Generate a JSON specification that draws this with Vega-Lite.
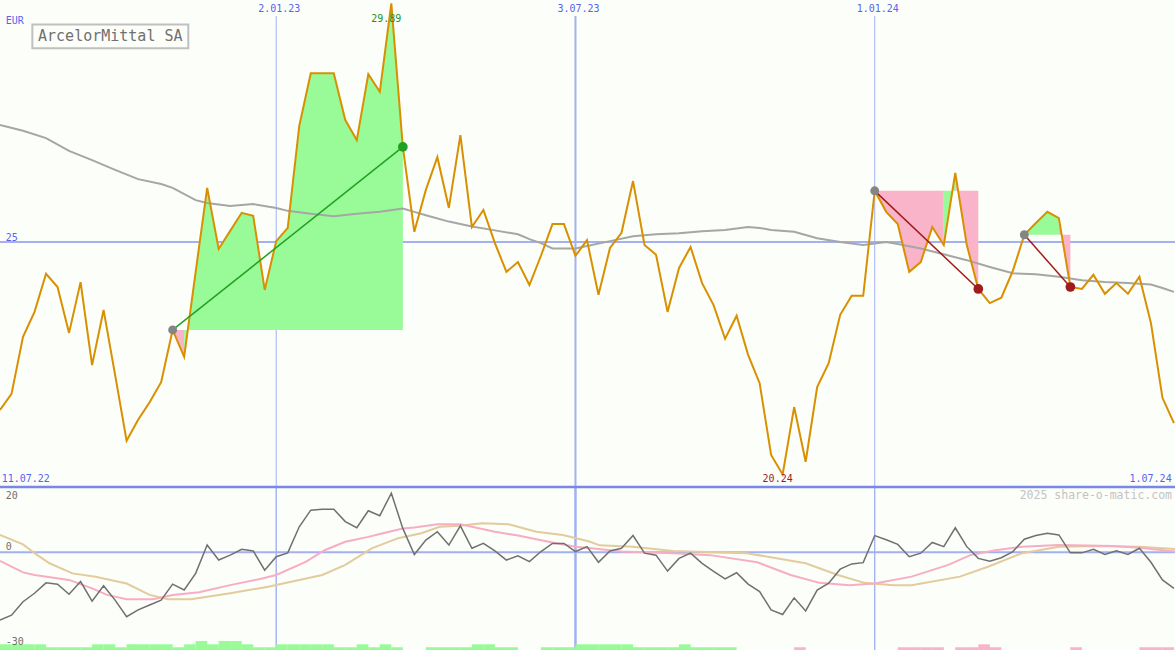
{
  "$schema": "https://vega.github.io/schema/vega-lite/v6.json",
  "background": "#fcfef9",
  "padding": 0,
  "autosize": {"type": "none"},
  "width": 1175,
  "height": 650,
  "config": {"view": {"stroke": null}, "scale": {"continuousPadding": 0}},
  "resolve": {"scale": {"y": "independent", "color": "independent"}},
  "datasets": {
    "price": [
      {"i":0,"p":21.56},{"i":1,"p":21.89},{"i":2,"p":23.06},{"i":3,"p":23.57},{"i":4,"p":24.35},{"i":5,"p":24.08},{"i":6,"p":23.14},{"i":7,"p":24.18},{"i":8,"p":22.48},{"i":9,"p":23.61},
      {"i":10,"p":22.28},{"i":11,"p":20.93},{"i":12,"p":21.36},{"i":13,"p":21.72},{"i":14,"p":22.13},{"i":15,"p":23.20},{"i":16,"p":22.65},{"i":17,"p":24.39},{"i":18,"p":26.11},{"i":19,"p":24.86},
      {"i":20,"p":25.23},{"i":21,"p":25.60},{"i":22,"p":25.54},{"i":23,"p":24.02},{"i":24,"p":25.02},{"i":25,"p":25.29},{"i":26,"p":27.38},{"i":27,"p":28.46},{"i":28,"p":28.46},{"i":29,"p":28.46},
      {"i":30,"p":27.50},{"i":31,"p":27.09},{"i":32,"p":28.44},{"i":33,"p":28.08},{"i":34,"p":29.89},{"i":35,"p":26.95},{"i":36,"p":25.21},{"i":37,"p":26.07},{"i":38,"p":26.74},{"i":39,"p":25.70},
      {"i":40,"p":27.19},{"i":41,"p":25.31},{"i":42,"p":25.66},{"i":43,"p":24.98},{"i":44,"p":24.39},{"i":45,"p":24.59},{"i":46,"p":24.12},{"i":47,"p":24.72},{"i":48,"p":25.37},{"i":49,"p":25.37},
      {"i":50,"p":24.72},{"i":51,"p":25.04},{"i":52,"p":23.92},{"i":53,"p":24.88},{"i":54,"p":25.19},{"i":55,"p":26.25},{"i":56,"p":24.94},{"i":57,"p":24.74},{"i":58,"p":23.57},{"i":59,"p":24.47},
      {"i":60,"p":24.90},{"i":61,"p":24.16},{"i":62,"p":23.71},{"i":63,"p":23.02},{"i":64,"p":23.49},{"i":65,"p":22.69},{"i":66,"p":22.11},{"i":67,"p":20.64},{"i":68,"p":20.24},{"i":69,"p":21.62},
      {"i":70,"p":20.50},{"i":71,"p":22.03},{"i":72,"p":22.52},{"i":73,"p":23.51},{"i":74,"p":23.90},{"i":75,"p":23.90},{"i":76,"p":26.05},{"i":77,"p":25.62},{"i":78,"p":25.37},{"i":79,"p":24.39},
      {"i":80,"p":24.59},{"i":81,"p":25.31},{"i":82,"p":24.94},{"i":83,"p":26.42},{"i":84,"p":24.94},{"i":85,"p":24.04},{"i":86,"p":23.75},{"i":87,"p":23.86},{"i":88,"p":24.41},{"i":89,"p":25.15},
      {"i":90,"p":25.39},{"i":91,"p":25.62},{"i":92,"p":25.49},{"i":93,"p":24.08},{"i":94,"p":24.04},{"i":95,"p":24.33},{"i":96,"p":23.94},{"i":97,"p":24.16},{"i":98,"p":23.94},{"i":99,"p":24.29},
      {"i":100,"p":23.34},{"i":101,"p":21.81},{"i":102,"p":21.29}
    ],
    "ma": [
      {"i":0,"p":27.40},{"i":2,"p":27.28},{"i":4,"p":27.13},{"i":6,"p":26.87},{"i":8,"p":26.68},{"i":10,"p":26.48},{"i":12,"p":26.29},{"i":14,"p":26.19},{"i":15,"p":26.11},{"i":17,"p":25.86},
      {"i":18,"p":25.80},{"i":20,"p":25.74},{"i":22,"p":25.78},{"i":24,"p":25.70},{"i":25,"p":25.64},{"i":27,"p":25.58},{"i":29,"p":25.53},{"i":31,"p":25.58},{"i":33,"p":25.62},{"i":35,"p":25.69},
      {"i":36,"p":25.62},{"i":37,"p":25.55},{"i":39,"p":25.42},{"i":41,"p":25.32},{"i":43,"p":25.24},{"i":45,"p":25.16},{"i":46,"p":25.06},{"i":47,"p":24.98},{"i":48,"p":24.87},{"i":50,"p":24.87},
      {"i":51,"p":24.92},{"i":53,"p":25.02},{"i":55,"p":25.12},{"i":57,"p":25.16},{"i":59,"p":25.18},{"i":61,"p":25.22},{"i":63,"p":25.25},{"i":65,"p":25.31},{"i":66,"p":25.29},{"i":67,"p":25.25},
      {"i":69,"p":25.21},{"i":71,"p":25.08},{"i":73,"p":25.00},{"i":75,"p":24.94},{"i":77,"p":25.00},{"i":78,"p":24.96},{"i":80,"p":24.87},{"i":82,"p":24.75},{"i":84,"p":24.63},{"i":86,"p":24.49},
      {"i":88,"p":24.36},{"i":90,"p":24.34},{"i":92,"p":24.29},{"i":94,"p":24.22},{"i":96,"p":24.18},{"i":98,"p":24.16},{"i":100,"p":24.13},{"i":101,"p":24.06},{"i":102,"p":23.98}
    ],
    "fill": [
      {"r":"1a","c":"dn","l":23.20,"i":15,"p":23.20},{"r":"1a","c":"dn","l":23.20,"i":16,"p":22.65},
      {"r":"1b","c":"up","l":23.20,"i":16,"p":22.65},{"r":"1b","c":"up","l":23.20,"i":17,"p":24.39},{"r":"1b","c":"up","l":23.20,"i":18,"p":26.11},{"r":"1b","c":"up","l":23.20,"i":19,"p":24.86},
      {"r":"1b","c":"up","l":23.20,"i":20,"p":25.23},{"r":"1b","c":"up","l":23.20,"i":21,"p":25.60},{"r":"1b","c":"up","l":23.20,"i":22,"p":25.54},{"r":"1b","c":"up","l":23.20,"i":23,"p":24.02},
      {"r":"1b","c":"up","l":23.20,"i":24,"p":25.02},{"r":"1b","c":"up","l":23.20,"i":25,"p":25.29},{"r":"1b","c":"up","l":23.20,"i":26,"p":27.38},{"r":"1b","c":"up","l":23.20,"i":27,"p":28.46},
      {"r":"1b","c":"up","l":23.20,"i":28,"p":28.46},{"r":"1b","c":"up","l":23.20,"i":29,"p":28.46},{"r":"1b","c":"up","l":23.20,"i":30,"p":27.50},{"r":"1b","c":"up","l":23.20,"i":31,"p":27.09},
      {"r":"1b","c":"up","l":23.20,"i":32,"p":28.44},{"r":"1b","c":"up","l":23.20,"i":33,"p":28.08},{"r":"1b","c":"up","l":23.20,"i":34,"p":29.89},{"r":"1b","c":"up","l":23.20,"i":35,"p":26.95},
      {"r":"2a","c":"dn","l":26.05,"i":76,"p":26.05},{"r":"2a","c":"dn","l":26.05,"i":77,"p":25.62},{"r":"2a","c":"dn","l":26.05,"i":78,"p":25.37},{"r":"2a","c":"dn","l":26.05,"i":79,"p":24.39},
      {"r":"2a","c":"dn","l":26.05,"i":80,"p":24.59},{"r":"2a","c":"dn","l":26.05,"i":81,"p":25.31},{"r":"2a","c":"dn","l":26.05,"i":82,"p":24.94},
      {"r":"2b","c":"up","l":26.05,"i":82,"p":24.94},{"r":"2b","c":"up","l":26.05,"i":83,"p":26.42},
      {"r":"2c","c":"dn","l":26.05,"i":83,"p":26.42},{"r":"2c","c":"dn","l":26.05,"i":84,"p":24.94},{"r":"2c","c":"dn","l":26.05,"i":85,"p":24.04},
      {"r":"3a","c":"up","l":25.15,"i":89,"p":25.15},{"r":"3a","c":"up","l":25.15,"i":90,"p":25.39},{"r":"3a","c":"up","l":25.15,"i":91,"p":25.62},{"r":"3a","c":"up","l":25.15,"i":92,"p":25.49},
      {"r":"3b","c":"dn","l":25.15,"i":92,"p":25.49},{"r":"3b","c":"dn","l":25.15,"i":93,"p":24.08}
    ],
    "trend": [
      {"t":1,"k":"s","c":"up","i":15,"p":23.20},{"t":1,"k":"e","c":"up","i":35,"p":26.95},
      {"t":2,"k":"s","c":"dn","i":76,"p":26.05},{"t":2,"k":"e","c":"dn","i":85,"p":24.04},
      {"t":3,"k":"s","c":"dn","i":89,"p":25.15},{"t":3,"k":"e","c":"dn","i":93,"p":24.08}
    ],
    "dates": [{"i":24,"d":"2.01.23"},{"i":50,"d":"3.07.23"},{"i":76,"d":"1.01.24"}],
    "mo": [
      {"i":0,"v":-20.8},{"i":1,"v":-19.3},{"i":2,"v":-15.2},{"i":3,"v":-12.6},{"i":4,"v":-9.4},{"i":5,"v":-9.8},{"i":6,"v":-12.9},{"i":7,"v":-9.0},{"i":8,"v":-15.0},{"i":9,"v":-10.3},
      {"i":10,"v":-14.7},{"i":11,"v":-19.8},{"i":12,"v":-17.7},{"i":13,"v":-16.2},{"i":14,"v":-14.7},{"i":15,"v":-9.8},{"i":16,"v":-11.6},{"i":17,"v":-6.5},{"i":18,"v":2.2},{"i":19,"v":-2.4},
      {"i":20,"v":-0.9},{"i":21,"v":0.9},{"i":22,"v":0.4},{"i":23,"v":-5.5},{"i":24,"v":-1.4},{"i":25,"v":-0.2},{"i":26,"v":7.8},{"i":27,"v":12.9},{"i":28,"v":13.2},{"i":29,"v":13.2},
      {"i":30,"v":9.4},{"i":31,"v":7.5},{"i":32,"v":12.7},{"i":33,"v":11.2},{"i":34,"v":18.1},{"i":35,"v":7.3},{"i":36,"v":-0.7},{"i":37,"v":3.7},{"i":38,"v":6.3},{"i":39,"v":2.2},
      {"i":40,"v":8.1},{"i":41,"v":1.2},{"i":42,"v":2.7},{"i":43,"v":0.4},{"i":44,"v":-2.4},{"i":45,"v":-1.1},{"i":46,"v":-2.9},{"i":47,"v":0.2},{"i":48,"v":2.7},{"i":49,"v":2.7},
      {"i":50,"v":0.2},{"i":51,"v":1.7},{"i":52,"v":-3.1},{"i":53,"v":0.4},{"i":54,"v":1.2},{"i":55,"v":5.1},{"i":56,"v":-0.3},{"i":57,"v":-0.9},{"i":58,"v":-5.8},{"i":59,"v":-1.9},
      {"i":60,"v":-0.3},{"i":61,"v":-3.4},{"i":62,"v":-5.9},{"i":63,"v":-8.2},{"i":64,"v":-6.3},{"i":65,"v":-9.8},{"i":66,"v":-12.1},{"i":67,"v":-17.7},{"i":68,"v":-19.1},{"i":69,"v":-14.0},
      {"i":70,"v":-18.0},{"i":71,"v":-11.6},{"i":72,"v":-9.5},{"i":73,"v":-5.2},{"i":74,"v":-3.6},{"i":75,"v":-3.2},{"i":76,"v":5.1},{"i":77,"v":3.8},{"i":78,"v":2.4},{"i":79,"v":-1.4},
      {"i":80,"v":-0.3},{"i":81,"v":3.0},{"i":82,"v":1.7},{"i":83,"v":7.5},{"i":84,"v":1.7},{"i":85,"v":-1.9},{"i":86,"v":-2.8},{"i":87,"v":-1.7},{"i":88,"v":0.2},{"i":89,"v":4.0},
      {"i":90,"v":5.1},{"i":91,"v":5.8},{"i":92,"v":5.3},{"i":93,"v":-0.2},{"i":94,"v":-0.2},{"i":95,"v":0.9},{"i":96,"v":-0.7},{"i":97,"v":0.4},{"i":98,"v":-0.7},{"i":99,"v":1.2},
      {"i":100,"v":-3.1},{"i":101,"v":-8.5},{"i":102,"v":-11.1}
    ],
    "pk": [
      {"i":0,"v":-2.7},{"i":2,"v":-6.2},{"i":3,"v":-7.0},{"i":6,"v":-8.5},{"i":8,"v":-11.1},{"i":9.3,"v":-13.1},{"i":11,"v":-14.4},{"i":13.3,"v":-14.4},{"i":15,"v":-13.1},{"i":17.3,"v":-12.3},
      {"i":20,"v":-10.1},{"i":22.6,"v":-8.2},{"i":24,"v":-7.0},{"i":26.6,"v":-2.9},{"i":28.2,"v":0.6},{"i":30,"v":3.2},{"i":32,"v":4.7},{"i":33,"v":5.6},{"i":35,"v":7.3},{"i":36,"v":7.6},
      {"i":38,"v":8.6},{"i":40,"v":8.6},{"i":43,"v":6.3},{"i":45,"v":5.1},{"i":48,"v":3.0},{"i":50,"v":1.7},{"i":52,"v":1.0},{"i":54,"v":0.2},{"i":58.5,"v":-0.3},{"i":61.7,"v":-0.9},
      {"i":65.8,"v":-3.1},{"i":68.7,"v":-7.0},{"i":71.2,"v":-9.4},{"i":73.8,"v":-10.1},{"i":76,"v":-9.6},{"i":79.2,"v":-7.5},{"i":82.4,"v":-3.9},{"i":84.3,"v":-0.9},{"i":86.5,"v":0.6},{"i":88.8,"v":1.7},
      {"i":92,"v":2.2},{"i":96.7,"v":1.9},{"i":99,"v":1.4},{"i":102.1,"v":0.2}
    ],
    "tn": [
      {"i":0,"v":5.3},{"i":2,"v":2.4},{"i":3,"v":-0.3},{"i":4.3,"v":-3.4},{"i":6.3,"v":-6.5},{"i":8.3,"v":-7.5},{"i":11,"v":-9.6},{"i":13,"v":-13.1},{"i":14.6,"v":-14.4},{"i":16.6,"v":-14.4},
      {"i":20,"v":-12.6},{"i":23.3,"v":-10.6},{"i":26,"v":-8.5},{"i":28,"v":-7.0},{"i":30,"v":-3.9},{"i":32.3,"v":1.2},{"i":34.6,"v":4.3},{"i":36.6,"v":5.8},{"i":38.2,"v":7.8},{"i":39.9,"v":8.1},
      {"i":41.9,"v":8.9},{"i":44.2,"v":8.6},{"i":46.6,"v":6.3},{"i":48.9,"v":5.3},{"i":51.2,"v":3.3},{"i":52.1,"v":2.1},{"i":55,"v":1.7},{"i":58.5,"v":0.4},{"i":64.9,"v":-0.3},{"i":70,"v":-3.4},
      {"i":72.8,"v":-7.0},{"i":75.1,"v":-9.4},{"i":77.6,"v":-10.1},{"i":79.2,"v":-10.1},{"i":83.4,"v":-7.5},{"i":85.9,"v":-4.4},{"i":88.8,"v":-0.3},{"i":92,"v":1.7},{"i":95.1,"v":1.9},{"i":99,"v":1.7},
      {"i":102.1,"v":1.0}
    ],
    "bars": [
      {"i":0,"v":-28.25,"c":"up"},{"i":1,"v":-28.25,"c":"up"},{"i":2,"v":-28.25,"c":"up"},{"i":3,"v":-28.25,"c":"up"},
      {"i":4,"v":-29.15,"c":"up"},{"i":5,"v":-29.15,"c":"up"},{"i":6,"v":-29.15,"c":"up"},{"i":7,"v":-29.15,"c":"up"},
      {"i":8,"v":-28.25,"c":"up"},{"i":9,"v":-28.25,"c":"up"},{"i":10,"v":-29.15,"c":"up"},
      {"i":11,"v":-28.25,"c":"up"},{"i":12,"v":-28.25,"c":"up"},{"i":13,"v":-28.25,"c":"up"},{"i":14,"v":-28.25,"c":"up"},
      {"i":15,"v":-29.15,"c":"up"},{"i":16,"v":-28.25,"c":"up"},{"i":17,"v":-27.25,"c":"up"},{"i":18,"v":-28.25,"c":"up"},
      {"i":19,"v":-27.25,"c":"up"},{"i":20,"v":-27.25,"c":"up"},{"i":21,"v":-28.25,"c":"up"},{"i":22,"v":-29.15,"c":"up"},{"i":23,"v":-29.15,"c":"up"},
      {"i":24,"v":-28.25,"c":"up"},{"i":25,"v":-28.25,"c":"up"},{"i":26,"v":-28.25,"c":"up"},{"i":27,"v":-28.25,"c":"up"},{"i":28,"v":-28.25,"c":"up"},
      {"i":29,"v":-29.15,"c":"up"},{"i":30,"v":-29.15,"c":"up"},{"i":31,"v":-28.25,"c":"up"},{"i":32,"v":-29.15,"c":"up"},{"i":33,"v":-28.25,"c":"up"},{"i":34,"v":-29.15,"c":"up"},
      {"i":37,"v":-29.15,"c":"up"},{"i":38,"v":-29.15,"c":"up"},{"i":39,"v":-29.15,"c":"up"},{"i":40,"v":-29.15,"c":"up"},
      {"i":41,"v":-28.25,"c":"up"},{"i":42,"v":-28.25,"c":"up"},{"i":43,"v":-29.15,"c":"up"},{"i":44,"v":-29.15,"c":"up"},
      {"i":47,"v":-29.15,"c":"up"},{"i":48,"v":-29.15,"c":"up"},{"i":49,"v":-29.15,"c":"up"},
      {"i":50,"v":-28.25,"c":"up"},{"i":51,"v":-28.25,"c":"up"},{"i":52,"v":-28.25,"c":"up"},{"i":53,"v":-28.25,"c":"up"},{"i":54,"v":-28.25,"c":"up"},
      {"i":55,"v":-29.15,"c":"up"},{"i":56,"v":-29.15,"c":"up"},{"i":57,"v":-29.15,"c":"up"},{"i":58,"v":-29.15,"c":"up"},
      {"i":59,"v":-28.25,"c":"up"},{"i":60,"v":-29.15,"c":"up"},{"i":61,"v":-29.15,"c":"up"},{"i":62,"v":-29.15,"c":"up"},{"i":63,"v":-29.15,"c":"up"},
      {"i":69,"v":-29.15,"c":"dn"},
      {"i":78,"v":-29.15,"c":"dn"},{"i":79,"v":-29.15,"c":"dn"},{"i":80,"v":-29.15,"c":"dn"},{"i":81,"v":-29.15,"c":"dn"},
      {"i":83,"v":-29.15,"c":"dn"},{"i":84,"v":-29.15,"c":"dn"},{"i":85,"v":-28.25,"c":"dn"},{"i":86,"v":-29.15,"c":"dn"},
      {"i":93,"v":-29.15,"c":"dn"},
      {"i":99,"v":-29.15,"c":"dn"},{"i":100,"v":-29.15,"c":"dn"},{"i":101,"v":-29.15,"c":"dn"}
    ]
  },
  "layer": [
    {
      "data": {"name": "dates"},
      "transform": [{"filter": "datum.i != 50"}],
      "mark": {"type": "rule", "color": "#a3b0f2", "strokeWidth": 1},
      "encoding": {
        "x": {"field": "i", "type": "quantitative", "scale": {"domain": [0, 102.09], "nice": false, "zero": false, "padding": 0}, "axis": null},
        "y": {"datum": 29.63, "type": "quantitative", "scale": {"domain": [16.643, 29.96], "nice": false, "zero": false}, "axis": null},
        "y2": {"datum": 16.643}
      }
    },
    {
      "data": {"name": "dates"},
      "transform": [{"filter": "datum.i == 50"}],
      "mark": {"type": "rule", "color": "#a3b0f2", "strokeWidth": 2},
      "encoding": {
        "x": {"field": "i", "type": "quantitative", "axis": null},
        "y": {"datum": 29.63, "type": "quantitative", "scale": {"domain": [16.643, 29.96], "nice": false, "zero": false}, "axis": null},
        "y2": {"datum": 16.643}
      }
    },
    {
      "data": {"values": [{}]},
      "mark": {"type": "rule", "color": "#a3b0f2", "strokeWidth": 2},
      "encoding": {"y": {"datum": 25, "type": "quantitative", "scale": {"domain": [16.643, 29.96], "nice": false, "zero": false}, "axis": null}}
    },
    {
      "data": {"values": [{}]},
      "mark": {"type": "rule", "color": "#a3b0f2", "strokeWidth": 2},
      "encoding": {"y": {"datum": 0, "type": "quantitative", "scale": {"domain": [-30, 169.39], "nice": false, "zero": false}, "axis": null}}
    },
    {
      "data": {"name": "fill"},
      "mark": {"type": "area", "opacity": 1},
      "encoding": {
        "x": {"field": "i", "type": "quantitative", "axis": null},
        "y": {"field": "p", "type": "quantitative", "stack": null, "scale": {"domain": [16.643, 29.96], "nice": false, "zero": false}, "axis": null},
        "y2": {"field": "l"},
        "detail": {"field": "r"},
        "color": {"field": "c", "type": "nominal", "scale": {"domain": ["up", "dn"], "range": ["#98fb98", "#fab4ca"]}, "legend": null}
      }
    },
    {
      "data": {"name": "ma"},
      "mark": {"type": "line", "color": "#a6a6a6", "strokeWidth": 2},
      "encoding": {
        "x": {"field": "i", "type": "quantitative", "axis": null},
        "y": {"field": "p", "type": "quantitative", "scale": {"domain": [16.643, 29.96], "nice": false, "zero": false}, "axis": null}
      }
    },
    {
      "data": {"name": "price"},
      "mark": {"type": "line", "color": "#d99000", "strokeWidth": 2},
      "encoding": {
        "x": {"field": "i", "type": "quantitative", "axis": null},
        "y": {"field": "p", "type": "quantitative", "scale": {"domain": [16.643, 29.96], "nice": false, "zero": false}, "axis": null}
      }
    },
    {
      "data": {"name": "trend"},
      "mark": {"type": "line", "strokeWidth": 1.5},
      "encoding": {
        "x": {"field": "i", "type": "quantitative", "axis": null},
        "y": {"field": "p", "type": "quantitative", "scale": {"domain": [16.643, 29.96], "nice": false, "zero": false}, "axis": null},
        "detail": {"field": "t"},
        "color": {"field": "c", "type": "nominal", "scale": {"domain": ["up", "dn"], "range": ["#22a022", "#a01c1c"]}, "legend": null}
      }
    },
    {
      "data": {"name": "trend"},
      "transform": [{"filter": "datum.k == 's'"}],
      "mark": {"type": "circle", "color": "#858585", "opacity": 1, "size": 80},
      "encoding": {
        "x": {"field": "i", "type": "quantitative", "axis": null},
        "y": {"field": "p", "type": "quantitative", "scale": {"domain": [16.643, 29.96], "nice": false, "zero": false}, "axis": null}
      }
    },
    {
      "data": {"name": "trend"},
      "transform": [{"filter": "datum.k == 'e'"}],
      "mark": {"type": "circle", "opacity": 1, "size": 95},
      "encoding": {
        "x": {"field": "i", "type": "quantitative", "axis": null},
        "y": {"field": "p", "type": "quantitative", "scale": {"domain": [16.643, 29.96], "nice": false, "zero": false}, "axis": null},
        "color": {"field": "c", "type": "nominal", "scale": {"domain": ["up", "dn"], "range": ["#22a022", "#a01c1c"]}, "legend": null}
      }
    },
    {
      "data": {"name": "dates"},
      "mark": {"type": "text", "font": "DejaVu Sans Mono", "fontSize": 10, "color": "#5565ee", "dx": 3, "baseline": "middle", "align": "center"},
      "encoding": {
        "x": {"field": "i", "type": "quantitative", "axis": null},
        "y": {"datum": 29.78, "type": "quantitative", "scale": {"domain": [16.643, 29.96], "nice": false, "zero": false}, "axis": null},
        "text": {"field": "d"}
      }
    },
    {
      "data": {"name": "price"},
      "transform": [{"filter": "datum.i == 34"}],
      "mark": {"type": "text", "font": "DejaVu Sans Mono", "fontSize": 10, "color": "#1f8f1f", "dx": -5, "dy": 16, "baseline": "middle", "align": "center"},
      "encoding": {
        "x": {"field": "i", "type": "quantitative", "axis": null},
        "y": {"field": "p", "type": "quantitative", "scale": {"domain": [16.643, 29.96], "nice": false, "zero": false}, "axis": null},
        "text": {"field": "p", "type": "quantitative", "format": ".2f"}
      }
    },
    {
      "data": {"name": "price"},
      "transform": [{"filter": "datum.i == 68"}],
      "mark": {"type": "text", "font": "DejaVu Sans Mono", "fontSize": 10, "color": "#a01c1c", "dx": -5, "dy": 5, "baseline": "middle", "align": "center"},
      "encoding": {
        "x": {"field": "i", "type": "quantitative", "axis": null},
        "y": {"field": "p", "type": "quantitative", "scale": {"domain": [16.643, 29.96], "nice": false, "zero": false}, "axis": null},
        "text": {"field": "p", "type": "quantitative", "format": ".2f"}
      }
    },
    {
      "data": {"values": [{}]},
      "mark": {"type": "text", "text": "EUR", "font": "DejaVu Sans Mono", "fontSize": 10, "color": "#5565ee", "align": "left", "baseline": "middle"},
      "encoding": {"x": {"datum": 0.5, "type": "quantitative", "axis": null}, "y": {"datum": 29.52, "type": "quantitative", "scale": {"domain": [16.643, 29.96], "nice": false, "zero": false}, "axis": null}}
    },
    {
      "data": {"values": [{}]},
      "mark": {"type": "text", "text": "25", "font": "DejaVu Sans Mono", "fontSize": 10, "color": "#5565ee", "align": "left", "baseline": "middle"},
      "encoding": {"x": {"datum": 0.5, "type": "quantitative", "axis": null}, "y": {"datum": 25.09, "type": "quantitative", "scale": {"domain": [16.643, 29.96], "nice": false, "zero": false}, "axis": null}}
    },
    {
      "data": {"values": [{}]},
      "mark": {"type": "text", "text": "11.07.22", "font": "DejaVu Sans Mono", "fontSize": 10, "color": "#5565ee", "align": "left", "baseline": "middle"},
      "encoding": {"x": {"datum": 0.15, "type": "quantitative", "axis": null}, "y": {"datum": 20.14, "type": "quantitative", "scale": {"domain": [16.643, 29.96], "nice": false, "zero": false}, "axis": null}}
    },
    {
      "data": {"values": [{}]},
      "mark": {"type": "text", "text": "1.07.24", "font": "DejaVu Sans Mono", "fontSize": 10, "color": "#5565ee", "align": "right", "baseline": "middle"},
      "encoding": {"x": {"datum": 101.8, "type": "quantitative", "axis": null}, "y": {"datum": 20.14, "type": "quantitative", "scale": {"domain": [16.643, 29.96], "nice": false, "zero": false}, "axis": null}}
    },
    {
      "data": {"values": [{}]},
      "mark": {"type": "rect", "fill": "#fcfef9", "stroke": "#c0c0c0", "strokeWidth": 2},
      "encoding": {
        "x": {"datum": 2.81, "type": "quantitative", "axis": null},
        "x2": {"datum": 16.36},
        "y": {"datum": 29.46, "type": "quantitative", "scale": {"domain": [16.643, 29.96], "nice": false, "zero": false}, "axis": null},
        "y2": {"datum": 28.97}
      }
    },
    {
      "data": {"values": [{}]},
      "mark": {"type": "text", "text": "ArcelorMittal SA", "font": "DejaVu Sans Mono", "fontSize": 15, "color": "#707070", "align": "center", "baseline": "middle"},
      "encoding": {"x": {"datum": 9.58, "type": "quantitative", "axis": null}, "y": {"datum": 29.215, "type": "quantitative", "scale": {"domain": [16.643, 29.96], "nice": false, "zero": false}, "axis": null}}
    },
    {
      "data": {"name": "dates"},
      "transform": [{"filter": "datum.i != 50"}],
      "mark": {"type": "rule", "color": "#a3b0f2", "strokeWidth": 1},
      "encoding": {
        "x": {"field": "i", "type": "quantitative", "axis": null},
        "y": {"datum": 20, "type": "quantitative", "scale": {"domain": [-30, 169.39], "nice": false, "zero": false}, "axis": null},
        "y2": {"datum": -30}
      }
    },
    {
      "data": {"name": "dates"},
      "transform": [{"filter": "datum.i == 50"}],
      "mark": {"type": "rule", "color": "#a3b0f2", "strokeWidth": 2},
      "encoding": {
        "x": {"field": "i", "type": "quantitative", "axis": null},
        "y": {"datum": 20, "type": "quantitative", "scale": {"domain": [-30, 169.39], "nice": false, "zero": false}, "axis": null},
        "y2": {"datum": -30}
      }
    },
    {
      "data": {"name": "bars"},
      "mark": {"type": "bar", "width": 11.6, "xOffset": 5.76, "opacity": 1},
      "encoding": {
        "x": {"field": "i", "type": "quantitative", "axis": null},
        "y": {"field": "v", "type": "quantitative", "stack": null, "scale": {"domain": [-30, 169.39], "nice": false, "zero": false, "padding": 0}, "axis": null},
        "y2": {"datum": -30},
        "color": {"field": "c", "type": "nominal", "scale": {"domain": ["up", "dn"], "range": ["#98fb98", "#fab4ca"]}, "legend": null}
      }
    },
    {
      "data": {"name": "tn"},
      "mark": {"type": "line", "color": "#e2cb9d", "strokeWidth": 2},
      "encoding": {
        "x": {"field": "i", "type": "quantitative", "axis": null},
        "y": {"field": "v", "type": "quantitative", "scale": {"domain": [-30, 169.39], "nice": false, "zero": false}, "axis": null}
      }
    },
    {
      "data": {"name": "pk"},
      "mark": {"type": "line", "color": "#f7adc5", "strokeWidth": 2},
      "encoding": {
        "x": {"field": "i", "type": "quantitative", "axis": null},
        "y": {"field": "v", "type": "quantitative", "scale": {"domain": [-30, 169.39], "nice": false, "zero": false}, "axis": null}
      }
    },
    {
      "data": {"name": "mo"},
      "mark": {"type": "line", "color": "#707070", "strokeWidth": 1.5},
      "encoding": {
        "x": {"field": "i", "type": "quantitative", "axis": null},
        "y": {"field": "v", "type": "quantitative", "scale": {"domain": [-30, 169.39], "nice": false, "zero": false}, "axis": null}
      }
    },
    {
      "data": {"values": [{}]},
      "mark": {"type": "rule", "color": "#7888ea", "strokeWidth": 2.5},
      "encoding": {"y": {"datum": 20, "type": "quantitative", "scale": {"domain": [-30, 169.39], "nice": false, "zero": false}, "axis": null}}
    },
    {
      "data": {"values": [{}]},
      "mark": {"type": "text", "text": "20", "font": "DejaVu Sans Mono", "fontSize": 10, "color": "#707070", "align": "left", "baseline": "middle"},
      "encoding": {"x": {"datum": 0.5, "type": "quantitative", "axis": null}, "y": {"datum": 17.24, "type": "quantitative", "scale": {"domain": [-30, 169.39], "nice": false, "zero": false}, "axis": null}}
    },
    {
      "data": {"values": [{}]},
      "mark": {"type": "text", "text": "0", "font": "DejaVu Sans Mono", "fontSize": 10, "color": "#707070", "align": "left", "baseline": "middle"},
      "encoding": {"x": {"datum": 0.5, "type": "quantitative", "axis": null}, "y": {"datum": 1.69, "type": "quantitative", "scale": {"domain": [-30, 169.39], "nice": false, "zero": false}, "axis": null}}
    },
    {
      "data": {"values": [{}]},
      "mark": {"type": "text", "text": "-30", "font": "DejaVu Sans Mono", "fontSize": 10, "color": "#707070", "align": "left", "baseline": "middle"},
      "encoding": {"x": {"datum": 0.5, "type": "quantitative", "axis": null}, "y": {"datum": -27.45, "type": "quantitative", "scale": {"domain": [-30, 169.39], "nice": false, "zero": false}, "axis": null}}
    },
    {
      "data": {"values": [{}]},
      "mark": {"type": "text", "text": "2025 share-o-matic.com", "font": "DejaVu Sans Mono", "fontSize": 11.5, "color": "#c4c4c4", "align": "right", "baseline": "middle"},
      "encoding": {"x": {"datum": 101.83, "type": "quantitative", "axis": null}, "y": {"datum": 17.24, "type": "quantitative", "scale": {"domain": [-30, 169.39], "nice": false, "zero": false}, "axis": null}}
    }
  ]
}
